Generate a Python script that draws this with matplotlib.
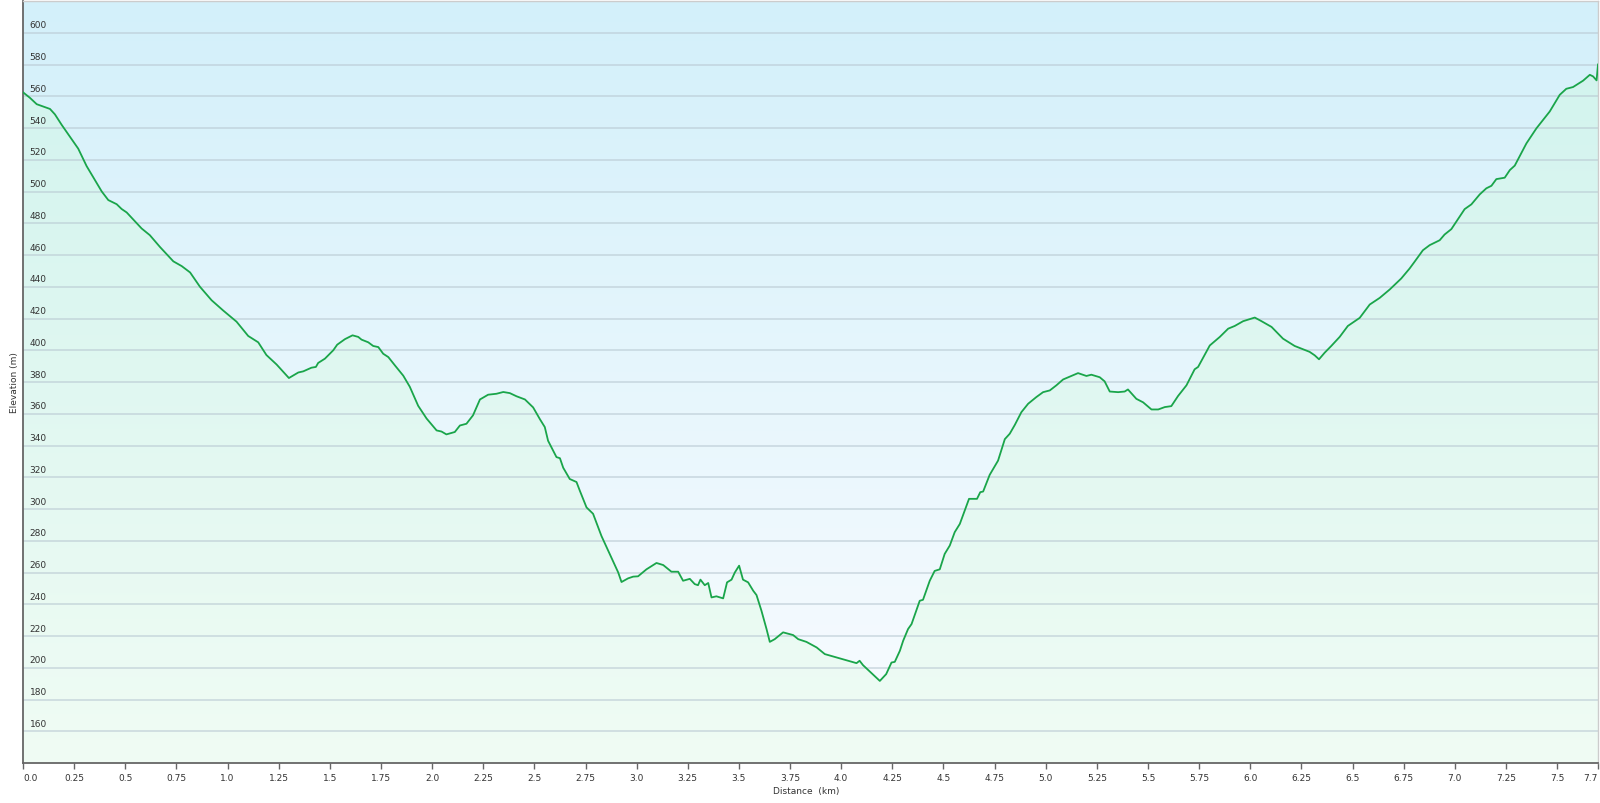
import numpy as np
import matplotlib
matplotlib.use("Agg")
import matplotlib.pyplot as plt
import matplotlib.transforms as mtransforms

# distance along the track (km) and elevation (m)
dist = [0.0, 0.034, 0.067, 0.132, 0.156, 0.189, 0.27, 0.311, 0.385, 0.417,
        0.458, 0.482, 0.507, 0.58, 0.62, 0.67, 0.735, 0.776, 0.817, 0.865,
        0.922, 0.979, 1.044, 1.101, 1.15, 1.19, 1.24, 1.30, 1.346, 1.37,
        1.41, 1.432, 1.443, 1.476, 1.517, 1.536, 1.574, 1.611, 1.639, 1.655,
        1.688, 1.712, 1.737, 1.761, 1.786, 1.818, 1.859, 1.891, 1.932, 1.973,
        2.022, 2.046, 2.07, 2.111, 2.136, 2.168, 2.2, 2.234, 2.274, 2.315,
        2.348, 2.38, 2.413, 2.454, 2.494, 2.527, 2.551, 2.567, 2.608, 2.625,
        2.641, 2.673, 2.706, 2.722, 2.755, 2.787, 2.828, 2.853, 2.91, 2.926,
        2.958, 2.983, 3.007, 3.048, 3.097, 3.13, 3.17, 3.203, 3.227, 3.26,
        3.284, 3.30, 3.312, 3.333, 3.35, 3.366, 3.39, 3.423, 3.442, 3.464,
        3.48, 3.501, 3.52, 3.545, 3.57, 3.586, 3.61, 3.635, 3.651, 3.675,
        3.716, 3.765, 3.79, 3.83, 3.88, 3.92, 4.075, 4.09, 4.107, 4.189,
        4.22, 4.246, 4.262, 4.287, 4.303, 4.327, 4.344, 4.384, 4.40, 4.433,
        4.457, 4.482, 4.506, 4.531, 4.555, 4.58, 4.625, 4.664, 4.68, 4.694,
        4.726, 4.767, 4.80, 4.824, 4.849, 4.881, 4.914, 4.954, 4.987, 5.02,
        5.052, 5.085, 5.125, 5.158, 5.199, 5.223, 5.264, 5.288, 5.313, 5.354,
        5.386, 5.402, 5.443, 5.476, 5.517, 5.55, 5.582, 5.614, 5.647, 5.688,
        5.728, 5.745, 5.802, 5.851, 5.892, 5.924, 5.965, 6.022, 6.055, 6.104,
        6.16, 6.217, 6.258, 6.29, 6.315, 6.336, 6.364, 6.396, 6.437, 6.477,
        6.535, 6.584, 6.633, 6.682, 6.738, 6.779, 6.803, 6.844, 6.877, 6.926,
        6.95, 6.983, 7.048, 7.081, 7.122, 7.154, 7.179, 7.203, 7.244, 7.269,
        7.293, 7.35, 7.399, 7.464, 7.513, 7.545, 7.578, 7.627, 7.66, 7.676,
        7.693, 7.70]

elev = [562.5, 559, 555, 552, 548.6, 542, 527, 516, 500, 494.6,
        492, 489, 486.8, 476.7, 472.5, 465, 456, 453, 449, 440,
        431.5, 425, 418, 409, 405, 397, 391, 382.5, 386, 386.7,
        389, 389.5, 392, 394.7, 400, 403.5, 407, 409.4, 408.4, 406.7,
        405, 402.7, 402, 397.8, 395.7, 390.5, 384, 377, 365, 357,
        349.5, 348.8, 347, 348.5, 352.6, 353.7, 359, 369, 372, 372.6,
        373.7, 373, 371, 369, 364, 356.6, 351.6, 343, 332.7, 332,
        326, 318.9, 317, 311.6, 301, 297, 283, 276, 260, 254,
        256.3, 257.4, 257.6, 262, 266, 264.7, 260.5, 260.5, 254.8, 256,
        252.7, 252, 255.5, 252, 253.4, 244.3, 245, 243.7, 253.8, 255.5,
        260, 264.3, 255.5, 253.8, 248.5, 245.8, 236, 224.4, 216.3, 218,
        222.3, 220.6, 218, 216.3, 212.8, 208.6, 202.9, 204.4, 201.6, 191.7,
        196, 203.3, 203.7, 210.7, 217, 224.4, 227.5, 242.2, 242.8, 254.8,
        261, 262, 271.7, 277, 285.4, 290.6, 306.4, 306.4, 310.6, 311,
        321.5, 330.5, 344, 347.4, 353, 361, 366.3, 370.5, 373.6, 374.7,
        377.9, 381.6, 383.8, 385.6, 383.8, 384.6, 383, 380.4, 374, 373.6,
        374, 375.3, 369.4, 367.2, 362.7, 362.7, 364.2, 364.8, 371.2, 377.9,
        388, 389.5, 403, 408.4, 413.6, 415.3, 418.3, 420.6, 418.3, 414.7,
        407.3, 402.7, 400.6, 399, 396.8, 394.3, 398.5, 402.7, 408.4, 415.3,
        420.4, 428.8, 433, 438.3, 445.2, 451.5, 455.7, 463, 466.2, 469.3,
        472.9, 476.3, 488.9, 491.9, 498.2, 502, 503.6, 507.8, 508.7, 513.5,
        516.3, 530.3, 539.8, 550.4, 560.9, 564.7, 565.8, 569.8, 573.5, 572.5,
        570, 580]

x_ticks = list(np.arange(0, 7.51, 0.25)) + [7.7]
y_ticks = list(range(160, 601, 20))

xmin, xmax = 0.0, 7.7
ymin, ymax = 140, 620

fig = plt.figure(figsize=(16, 8.04), dpi=100)
ax = fig.add_axes([23 / 1600, 40 / 804, 1575 / 1600, 762 / 804])
ax.set_xlim(xmin, xmax)
ax.set_ylim(ymin, ymax)

# sky gradient behind everything
top_bg = np.array([211, 240, 250]) / 255
bot_bg = np.array([250, 252, 255]) / 255
t = np.linspace(0, 1, 256)[:, None]
bg = top_bg * (1 - t) + bot_bg * t
ax.imshow(bg[:, None, :].repeat(2, axis=1), extent=[xmin, xmax, ymin, ymax],
          aspect="auto", origin="upper", zorder=0, interpolation="bilinear")

# green gradient under the profile
top_fill = np.array([208, 243, 238]) / 255
bot_fill = np.array([240, 252, 244]) / 255
fillimg = top_fill * (1 - t) + bot_fill * t
poly = ax.fill_between(dist, elev, ymin, facecolor="none", edgecolor="none")
im = ax.imshow(fillimg[:, None, :].repeat(2, axis=1), extent=[xmin, xmax, ymin, ymax],
               aspect="auto", origin="upper", zorder=1, interpolation="bilinear")
im.set_clip_path(poly.get_paths()[0], transform=ax.transData)

for yv in y_ticks:
    ax.axhline(yv, color="#b9c9d2", lw=1.3, alpha=0.6, zorder=2)

ax.plot(dist, elev, color="#1aa54a", lw=1.3, zorder=3, solid_joinstyle="round")

# y labels sit inside the plot above the grid lines
trans = mtransforms.blended_transform_factory(ax.transAxes, ax.transData)
for yv in y_ticks:
    ax.text(6.5 / 1575, yv + 2.2, str(yv), transform=trans, fontsize=6.5,
            color="#333333", ha="left", va="bottom", zorder=4)
ax.set_yticks([])

ax.set_xticks(x_ticks)
labels = []
for v in x_ticks:
    s = f"{v:g}"
    if "." not in s:
        s += ".0"
    labels.append(s)
ax.set_xticklabels(labels, fontsize=6.5, color="#333333")
ax.tick_params(axis="x", direction="out", length=4, width=1, color="#666666", pad=3)
tl = ax.get_xticklabels()
tl[0].set_ha("left")
tl[-1].set_ha("right")

for side in ["top", "right"]:
    ax.spines[side].set_color("#cccccc")
    ax.spines[side].set_linewidth(1)
for side in ["left", "bottom"]:
    ax.spines[side].set_color("#666666")
    ax.spines[side].set_linewidth(1.3)

fig.text(14 / 1600, 1 - 383 / 804, "Elevation (m)", rotation=90, fontsize=6.5,
         color="#333333", ha="center", va="center")
fig.text(806 / 1600, 1 - 792 / 804, "Distance  (km)", fontsize=6.5,
         color="#333333", ha="center", va="center")

fig.savefig("out.png", dpi=100)
